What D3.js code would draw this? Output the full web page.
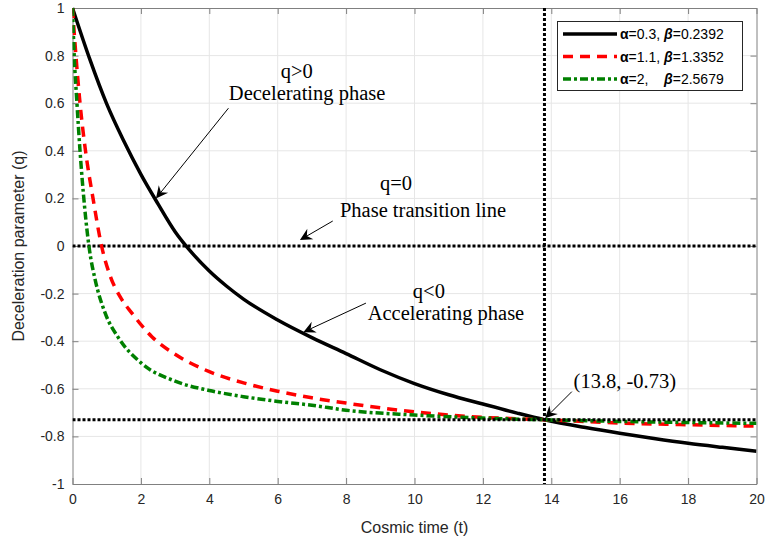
<!DOCTYPE html>
<html><head><meta charset="utf-8">
<script src="https://cdn.jsdelivr.net/npm/d3@7"></script>
<style>body{margin:0;background:#fff}</style>
</head><body><svg id="c" width="767" height="544"></svg>
<script>
// ---- data ----
const tBlack = [0,0.5,1,1.5,2,2.5,3,3.5,4,4.5,5,6,7,8,9,10,11,12,13,13.8,15,16,17,18,19,20];
const qBlack = [1,0.787,0.597,0.441,0.301,0.177,0.06,-0.03,-0.105,-0.168,-0.223,-0.311,-0.385,-0.452,-0.52,-0.578,-0.625,-0.664,-0.702,-0.73,-0.763,-0.787,-0.809,-0.829,-0.846,-0.862];
const tRed = [0,0.1,0.22,0.38,0.6,0.85,1.1,1.4,1.73,2.32,3,4,5,6,7,8,9,10,11,12,13,13.8,16,18,20];
const qRed = [1,0.8,0.6,0.4,0.2,0,-0.125,-0.215,-0.281,-0.381,-0.455,-0.528,-0.575,-0.61,-0.638,-0.66,-0.68,-0.697,-0.71,-0.72,-0.726,-0.73,-0.744,-0.751,-0.757];
const tGreen = [0,0.05,0.13,0.22,0.35,0.49,0.66,0.95,1.34,2.02,3,4,5,6,7,8,10,12,13.8,16,20];
const qGreen = [1,0.8,0.6,0.4,0.17,-0.01,-0.14,-0.28,-0.385,-0.493,-0.568,-0.607,-0.633,-0.653,-0.669,-0.69,-0.71,-0.723,-0.73,-0.737,-0.745];
const seriesNames = ["\u03b1=0.3, ", "\u03b1=1.1, ", "\u03b1=2,    "];
const betaNames = ["\u03b2=0.2392", "\u03b2=1.3352", "\u03b2=2.5679"];
const xTicks = [0,2,4,6,8,10,12,14,16,18,20];
const yTicks = [-1,-0.8,-0.6,-0.4,-0.2,0,0.2,0.4,0.6,0.8,1];
const refT = 13.8, refQ = -0.73;
// annotations: text lines [t, q, text], arrows [t0,q0,t1,q1]
const annoText = [[6.56,0.706,"q>0"],[6.86,0.613,"Decelerating phase"],[9.46,0.235,"q=0"],[10.25,0.122,"Phase transition line"],[10.42,-0.218,"q<0"],[10.92,-0.311,"Accelerating phase"],[16.15,-0.597,"(13.8, -0.73)"]];
const annoArrows = [[4.56,0.579,2.44,0.2],[7.61,0.105,6.65,0.025],[8.58,-0.24,6.75,-0.362],[14.6,-0.612,13.82,-0.724]];

// ---- layout ----
const L=72.5, R=756.5, T=8, B=484;
const svg = d3.select("#c");
const x = d3.scaleLinear().domain([0,20]).range([L,R]);
const y = d3.scaleLinear().domain([-1,1]).range([B,T]);
const axCol = "#262626";

// grid
svg.append("g").selectAll("line").data(xTicks.slice(1,-1)).join("line")
  .attr("x1",d=>x(d)).attr("x2",d=>x(d)).attr("y1",T).attr("y2",B).attr("stroke","#e6e6e6").attr("stroke-width",1);
svg.append("g").selectAll("line").data(yTicks.slice(1,-1)).join("line")
  .attr("y1",d=>y(d)).attr("y2",d=>y(d)).attr("x1",L).attr("x2",R).attr("stroke","#e6e6e6").attr("stroke-width",1);

// axes
const fontTick = "14px 'Liberation Sans', Arial, sans-serif";
const xAx = svg.append("g").attr("transform",`translate(0,${B})`)
  .call(d3.axisBottom(x).tickValues(xTicks).tickSizeInner(-6).tickSizeOuter(0).tickPadding(10).tickFormat(d3.format("d")));
const yAx = svg.append("g").attr("transform",`translate(${L},0)`)
  .call(d3.axisLeft(y).tickValues(yTicks).tickSizeInner(-6).tickSizeOuter(0).tickPadding(8).tickFormat(d=>String(d)));
const xAxTop = svg.append("g").attr("transform",`translate(0,${T})`)
  .call(d3.axisTop(x).tickValues(xTicks).tickSizeInner(-6).tickSizeOuter(0).tickFormat(""));
const yAxR = svg.append("g").attr("transform",`translate(${R},0)`)
  .call(d3.axisRight(y).tickValues(yTicks).tickSizeInner(-6).tickSizeOuter(0).tickFormat(""));
[xAx,yAx,xAxTop,yAxR].forEach(g=>{
  g.select(".domain").attr("stroke","#808080").attr("stroke-width",1);
  g.selectAll(".tick line").attr("stroke","#808080");
  g.selectAll("text").style("font",fontTick).attr("fill",axCol);
});

// curves
const line = d3.line().x(d=>x(d[0])).y(d=>y(d[1])).curve(d3.curveMonotoneX);
svg.append("clipPath").attr("id","clp").append("rect").attr("x",L).attr("y",T-2).attr("width",R-L).attr("height",B-T+4);
const series = [
  {t:tBlack,q:qBlack,color:"#000000",dash:null},
  {t:tRed,q:qRed,color:"#ff0000",dash:"10,7"},
  {t:tGreen,q:qGreen,color:"#008000",dash:"8,3,3,3"}
];
const pg = svg.append("g").attr("clip-path","url(#clp)");
pg.append("line").attr("x1",L).attr("x2",R).attr("y1",y(0)).attr("y2",y(0)).attr("stroke","#000").attr("stroke-width",3).attr("stroke-dasharray","3,2");
series.forEach(s=>{
  pg.append("path").datum(s.t.map((t,i)=>[t,s.q[i]])).attr("d",line)
    .attr("fill","none").attr("stroke",s.color).attr("stroke-width",3.5)
    .attr("stroke-dasharray",s.dash);
});
pg.append("line").attr("x1",L).attr("x2",R).attr("y1",y(refQ)).attr("y2",y(refQ)).attr("stroke","#000").attr("stroke-width",3).attr("stroke-dasharray","3,2");
pg.append("line").attr("x1",x(refT)).attr("x2",x(refT)).attr("y1",T).attr("y2",B).attr("stroke","#000").attr("stroke-width",3).attr("stroke-dasharray","3,2");

// annotations
const serif = "'Liberation Serif','Times New Roman',serif";
svg.append("g").selectAll("text").data(annoText).join("text")
  .attr("x",d=>x(d[0])).attr("y",d=>y(d[1])).attr("text-anchor","middle")
  .style("font-family",serif).style("font-size","20.5px").attr("fill","#000").text(d=>d[2]);
const ag = svg.append("g");
annoArrows.forEach(a=>{
  const x0=x(a[0]),y0=y(a[1]),x1=x(a[2]),y1=y(a[3]);
  const ang=Math.atan2(y1-y0,x1-x0), hl=12, hw=6, back=8;
  const bx=x1-hl*Math.cos(ang), by=y1-hl*Math.sin(ang);
  const nx=-Math.sin(ang), ny=Math.cos(ang);
  const ix=x1-back*Math.cos(ang), iy=y1-back*Math.sin(ang);
  ag.append("line").attr("x1",x0).attr("y1",y0).attr("x2",ix).attr("y2",iy).attr("stroke","#000").attr("stroke-width",1);
  ag.append("path").attr("d",`M${x1},${y1}L${bx+nx*hw},${by+ny*hw}L${ix},${iy}L${bx-nx*hw},${by-ny*hw}Z`).attr("fill","#000");
});

// legend
const lg = svg.append("g");
lg.append("rect").attr("x",557.5).attr("y",21.5).attr("width",185).attr("height",69).attr("fill","#fff").attr("stroke","#262626").attr("stroke-width",1);
series.forEach((s,i)=>{
  const yy = 34 + i*22.5;
  lg.append("line").attr("x1",563).attr("x2",617).attr("y1",yy).attr("y2",yy)
    .attr("stroke",s.color).attr("stroke-width",3.5).attr("stroke-dasharray",s.dash);
  const tx = lg.append("text").attr("x",620).attr("y",yy+5).style("font",fontTick).attr("fill","#000").attr("xml:space","preserve");
  tx.append("tspan").style("font-weight","bold").text("\u03b1");
  tx.append("tspan").text(seriesNames[i].slice(1));
  tx.append("tspan").style("font-weight","bold").style("font-style","italic").text("\u03b2");
  tx.append("tspan").text(betaNames[i].slice(1));
});

// axis labels
svg.append("text").attr("x",(L+R)/2).attr("y",533).attr("text-anchor","middle")
  .style("font","16px 'Liberation Sans', Arial, sans-serif").attr("fill",axCol).text("Cosmic time (t)");
svg.append("text").attr("transform",`translate(24,${(T+B)/2}) rotate(-90)`).attr("text-anchor","middle")
  .style("font","16px 'Liberation Sans', Arial, sans-serif").attr("fill",axCol).text("Deceleration parameter (q)");
</script></body></html>
